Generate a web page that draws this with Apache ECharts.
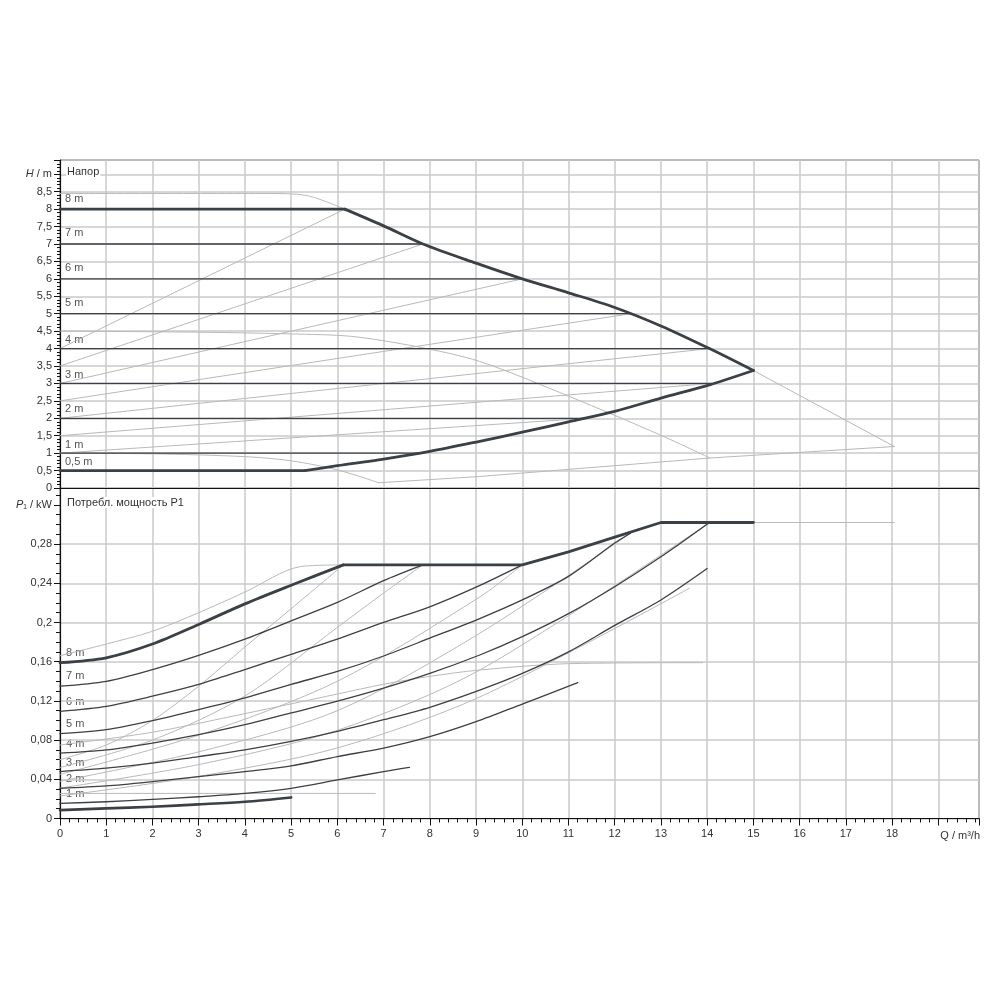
<!DOCTYPE html>
<html><head><meta charset="utf-8">
<script src="https://cdn.jsdelivr.net/npm/echarts@6/dist/echarts.min.js"></script>
<style>html,body{margin:0;padding:0;background:#fff}#c{width:1000px;height:1000px}</style>
</head><body><div id="c"></div>
<script>
// ---------- DATA: head H (m) vs flow Q (m³/h) ----------
const hTop8 = [[0,8],[6.16,8]];
const hFallBranch = [[6.16,8],[7,7.52],[7.85,7.0],[9,6.45],[10,6.0],[11,5.6],[12,5.18],[13,4.65],[14.05,4.0],[15,3.37]];
const hRiseBranch = [[5.3,0.5],[6,0.64],[7,0.83],[8,1.05],[9.08,1.34],[10,1.6],[11,1.9],[12,2.2],[13,2.58],[14.05,2.96],[15,3.37]];
const hBottom05 = [[0,0.5],[5.3,0.5]];
const hConst7 = [[0,7],[7.85,7]];
const hConst6 = [[0,6],[10,6]];
const hConst5 = [[0,5],[12.34,5]];
const hConst4 = [[0,4],[14.05,4]];
const hConst3 = [[0,3],[14.1,3]];
const hConst2 = [[0,2],[11.4,2]];
const hConst1 = [[0,1],[7.85,1]];
const hVar8 = [[0,4],[6.16,8]];
const hVar7 = [[0,3.5],[7.85,7]];
const hVar6 = [[0,3],[10,6]];
const hVar5 = [[0,2.5],[12.34,5]];
const hVar4 = [[0,2],[14.05,4]];
const hVar3 = [[0,1.5],[14.1,3]];
const hVar2 = [[0,1],[11.4,2]];
const hMax = [[0,8.45],[4.5,8.45],[5.3,8.4],[6.16,8.0]];
const hMid = [[0,4.5],[3,4.47],[5,4.42],[6.3,4.35],[7.7,4.06],[9.08,3.63],[11.03,2.62],[12.97,1.53],[14.06,0.86]];
const hLow = [[0,1.0],[2,0.98],[4,0.9],[5,0.78],[6,0.52],[6.9,0.15]];
const hLowRise = [[6.9,0.15],[9.08,0.33],[14.06,0.86],[18.05,1.19]];
const hTipRun = [[15,3.37],[18.05,1.19]];

// ---------- DATA: power P1 (kW) vs flow Q ----------
const pConst8 = [[0,0.159],[1,0.164],[2,0.178],[3,0.198],[4,0.219],[5,0.238],[6.13,0.2588]];
const pLimit = [[6.13,0.2588],[10,0.2588],[11,0.272],[12,0.287],[13,0.302],[15,0.302]];
const pConst7 = [[0,0.135],[1,0.140],[2,0.152],[3,0.1665],[4,0.183],[5,0.2017],[6,0.2205],[7,0.2427],[7.85,0.2588]];
const pConst6 = [[0,0.1094],[1,0.1145],[2,0.1248],[3,0.1368],[4,0.152],[5,0.1675],[6,0.183],[7,0.200],[8,0.216],[9,0.236],[10,0.2588]];
const pConst5 = [[0,0.0865],[1,0.0906],[2,0.0998],[3,0.111],[4,0.123],[5,0.1368],[6,0.150],[7,0.1658],[8,0.184],[9.08,0.204],[10,0.223],[11,0.247],[12,0.281],[12.34,0.291]];
const pConst4 = [[0,0.0667],[1,0.070],[2,0.077],[3,0.0855],[4,0.0957],[5,0.1077],[6,0.1197],[7,0.133],[8,0.148],[9.08,0.1668],[10,0.1855],[11,0.209],[12,0.2365],[13,0.267],[14.05,0.302]];
const pConst3 = [[0,0.0479],[1,0.0513],[2,0.0564],[3,0.0632],[4,0.070],[5,0.0786],[6,0.0889],[7,0.1008],[8,0.1135],[9.08,0.131],[10,0.148],[11,0.170],[12,0.197],[13,0.223],[14,0.255]];
const pConst2 = [[0,0.0308],[1,0.0332],[2,0.0376],[3,0.0427],[4,0.0479],[5,0.0537],[6,0.0632],[7,0.0718],[8,0.0835],[9,0.0988],[10,0.1168],[11.2,0.1386]];
const pConst1 = [[0,0.0154],[1,0.0171],[2,0.0195],[3,0.0222],[4,0.0256],[5,0.0308],[6,0.0393],[7,0.0479],[7.56,0.0522]];
const pConst05 = [[0,0.0085],[1,0.0103],[2,0.012],[3,0.0144],[4,0.0171],[5,0.0215]];
const pMax = [[0,0.166],[1,0.178],[2,0.191],[3,0.210],[4,0.231],[5.2,0.257],[6.13,0.2588]];
const pMaxRun = [[15,0.302],[18.05,0.302]];
const pMid = [[0,0.075],[2,0.088],[4,0.107],[6,0.127],[7,0.137],[8,0.145],[9.08,0.1515],[11.03,0.158],[13.9,0.159]];
const pLow = [[0,0.0256],[6.82,0.0256]];
const pVar8 = [[0,0.060],[1,0.075],[2,0.100],[3,0.135],[4,0.175],[5,0.214],[6.13,0.2588]];
const pVar7 = [[0,0.052],[2,0.080],[4,0.125],[6,0.195],[7,0.230],[7.85,0.2588]];
const pVar6 = [[0,0.045],[3,0.085],[6,0.140],[9.08,0.226],[10,0.2588]];
const pVar5 = [[0,0.038],[3,0.068],[6,0.110],[9.08,0.189],[12.34,0.291]];
const pVar4 = [[0,0.031],[3,0.055],[6,0.090],[9.08,0.1515],[14.05,0.302]];
const pVar3 = [[0,0.023],[3,0.043],[6,0.072],[9.08,0.124],[13.62,0.235]];

// ---------- TICK LABELS ----------
const xTickLabels = ['0','1','2','3','4','5','6','7','8','9','10','11','12','13','14','15','16','17','18'];
const hTitle = '{i|H} / m';
const pTitle = '{i|P}₁ / kW';
const qTitle = 'Q / m³/h';
const topCaption = 'Напор';
const bottomCaption = 'Потребл. мощность P1';
const hCurveLabels = ['8 m','7 m','6 m','5 m','4 m','3 m','2 m','1 m','0,5 m'];
const pCurveLabels = ['8 m','7 m','6 m','5 m','4 m','3 m','2 m','1 m'];

// ---------- CHART ----------
const DARK = '#3b4046', GRAY = '#b9b9b9', GRID = '#cacaca';
const font = 'Liberation Sans, Arial, sans-serif';
const chart = echarts.init(document.getElementById('c'), null, {renderer:'canvas'});

function ser(data, g, color, width, smooth){
  return {type:'line', xAxisIndex:g, yAxisIndex:g, data:data, showSymbol:false, symbol:'none',
    smooth: smooth ? 0.3 : false, silent:true, animation:false,
    lineStyle:{color:color, width:width, cap:'round', join:'round'}, z: width>2?5:(color===DARK?4:3)};
}
const comma = v => String(+v.toFixed(4)).replace('.', ',');
const near = (a,b) => Math.abs(a-b) < 1e-6;

const series = [
  // top chart
  ser(hMax,0,GRAY,1,true), ser(hMid,0,GRAY,1,true), ser(hLow,0,GRAY,1,true),
  ser(hLowRise,0,GRAY,1,false), ser(hTipRun,0,GRAY,1,false),
  ser(hVar8,0,GRAY,1,false), ser(hVar7,0,GRAY,1,false), ser(hVar6,0,GRAY,1,false),
  ser(hVar5,0,GRAY,1,false), ser(hVar4,0,GRAY,1,false), ser(hVar3,0,GRAY,1,false), ser(hVar2,0,GRAY,1,false),
  ser(hConst7,0,DARK,1.3,false), ser(hConst6,0,DARK,1.3,false), ser(hConst5,0,DARK,1.3,false),
  ser(hConst4,0,DARK,1.3,false), ser(hConst3,0,DARK,1.3,false), ser(hConst2,0,DARK,1.3,false), ser(hConst1,0,DARK,1.3,false),
  ser(hTop8,0,DARK,2.8,false), ser(hFallBranch,0,DARK,2.8,true), ser(hRiseBranch,0,DARK,2.8,true), ser(hBottom05,0,DARK,2.8,false),
  // bottom chart
  ser(pMax,1,GRAY,1,true), ser(pMaxRun,1,GRAY,1,false), ser(pMid,1,GRAY,1,true), ser(pLow,1,GRAY,1,false),
  ser(pVar8,1,GRAY,1,true), ser(pVar7,1,GRAY,1,true), ser(pVar6,1,GRAY,1,true),
  ser(pVar5,1,GRAY,1,true), ser(pVar4,1,GRAY,1,true), ser(pVar3,1,GRAY,1,true),
  ser(pConst7,1,DARK,1.3,true), ser(pConst6,1,DARK,1.3,true), ser(pConst5,1,DARK,1.3,true),
  ser(pConst4,1,DARK,1.3,true), ser(pConst3,1,DARK,1.3,true), ser(pConst2,1,DARK,1.3,true), ser(pConst1,1,DARK,1.3,true),
  ser(pConst05,1,DARK,2.6,true),
  ser(pConst8,1,DARK,2.8,true), ser(pLimit,1,DARK,2.8,false)
];

const axisLabelBase = {color:'#333', fontSize:11, fontFamily:font};
const gridLinesBottom = ['#cacaca','#cacaca','#cacaca','#cacaca','#cacaca','#cacaca','#cacaca','#cacaca','rgba(0,0,0,0)','#cacaca'];

const labelsGraphic = [];
const hLabelY = [200,234,269,304,341,376,410,446,463];
hCurveLabels.forEach((t,i)=>labelsGraphic.push({type:'text', left:65, top:hLabelY[i]-7, style:{text:t, fill:'#555', font:'11px '+font}}));
const pLabelY = [654,677,703,725,745,764,780,795];
pCurveLabels.forEach((t,i)=>labelsGraphic.push({type:'text', left:66, top:pLabelY[i]-7, style:{text:t, fill:'#555', font:'11px '+font}}));
labelsGraphic.push({type:'text', left:66, top:166, z:10, style:{text:topCaption, fill:'#333', font:'11px '+font, backgroundColor:'#fff', padding:[0,1]}});
labelsGraphic.push({type:'text', left:66, top:497, z:10, style:{text:bottomCaption, fill:'#333', font:'11px '+font, backgroundColor:'#fff', padding:[0,1]}});
labelsGraphic.push({type:'text', right:20, top:830, style:{text:qTitle, fill:'#333', font:'11px '+font}});

chart.setOption({
  animation:false,
  backgroundColor:'#fff',
  grid:[
    {left:60, right:21, top:160, height:328, show:true, borderColor:'#222', borderWidth:1, backgroundColor:'transparent'},
    {left:60, right:21, top:488, height:330.5, show:true, borderColor:'#222', borderWidth:1, backgroundColor:'transparent'}
  ],
  xAxis:[
    {type:'value', gridIndex:0, min:0, max:19.88, interval:1,
      axisLine:{show:true, lineStyle:{color:'#111', width:1.2}}, axisTick:{show:false}, axisLabel:{show:false},
      splitLine:{show:true, lineStyle:{color:GRID, width:1.5}}},
    {type:'value', gridIndex:1, min:0, max:19.88, interval:1,
      axisLine:{show:true, lineStyle:{color:'#111', width:1.2}},
      axisTick:{show:true, inside:false, length:7, lineStyle:{color:'#111'}},
      minorTick:{show:true, splitNumber:5, length:4, lineStyle:{color:'#111'}},
      axisLabel:Object.assign({}, axisLabelBase, {margin:10, formatter:v => (Number.isInteger(v) && v < xTickLabels.length) ? xTickLabels[v] : ''}),
      splitLine:{show:true, lineStyle:{color:GRID, width:1.5}}}
  ],
  yAxis:[
    {type:'value', gridIndex:0, min:0, max:9.41, interval:0.5,
      axisLine:{show:true, lineStyle:{color:'#111', width:1.2}},
      axisTick:{show:true, inside:false, length:6, lineStyle:{color:'#111'}},
      minorTick:{show:true, splitNumber:5, length:3, lineStyle:{color:'#111'}},
      axisLabel:Object.assign({}, axisLabelBase, {margin:8, formatter:v => near(v,9) ? hTitle : (v > 9 ? '' : comma(v)),
        rich:{i:{fontStyle:'italic', fontSize:11, fontFamily:font, color:'#333'}}}),
      splitLine:{show:true, lineStyle:{color:GRID, width:1.5}}},
    {type:'value', gridIndex:1, min:0, max:0.3372, interval:0.04,
      axisLine:{show:true, lineStyle:{color:'#111', width:1.2}},
      axisTick:{show:true, inside:false, length:6, lineStyle:{color:'#111'}},
      minorTick:{show:true, splitNumber:4, length:4, lineStyle:{color:'#111'}},
      axisLabel:Object.assign({}, axisLabelBase, {margin:8, formatter:v => near(v,0.32) ? pTitle : (v > 0.33 ? '' : comma(v)),
        rich:{i:{fontStyle:'italic', fontSize:11, fontFamily:font, color:'#333'}}}),
      splitLine:{show:true, lineStyle:{color:gridLinesBottom, width:1.5}}}
  ],
  graphic: labelsGraphic,
  series: series
});
</script></body></html>
